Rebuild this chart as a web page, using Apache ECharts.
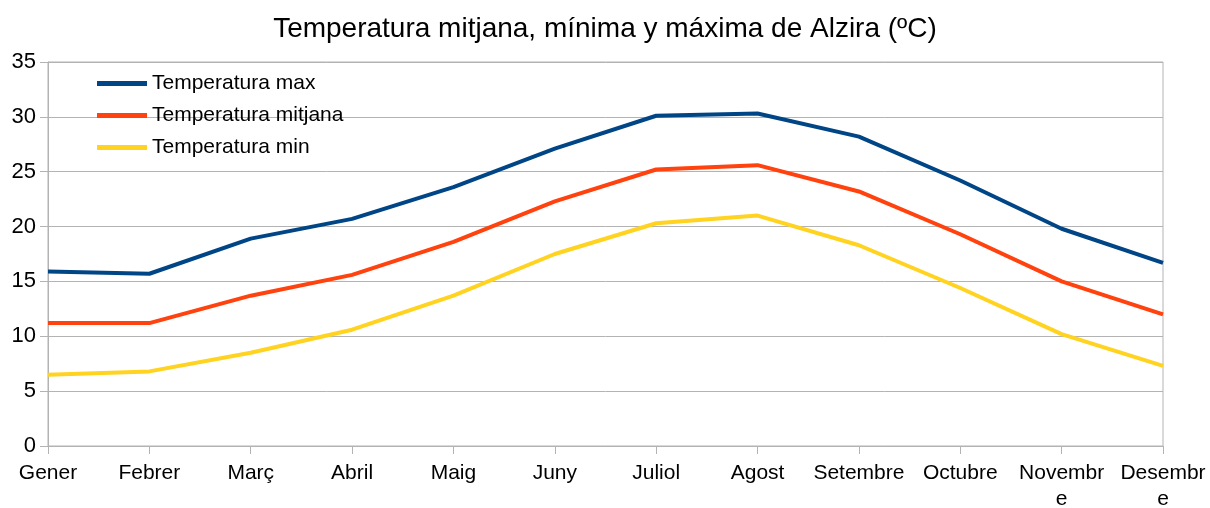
<!DOCTYPE html>
<html>
<head>
<meta charset="utf-8">
<script src="https://cdn.jsdelivr.net/npm/echarts@6/dist/echarts.min.js"></script>
<style>
  html, body { margin: 0; padding: 0; background: #fff; }
  #chart { width: 1210px; height: 508px; }
</style>
</head>
<body>
<div id="chart"></div>
<script>
// dades
var mesos = ['Gener', 'Febrer', 'Març', 'Abril', 'Maig', 'Juny', 'Juliol', 'Agost', 'Setembre', 'Octubre', 'Novembre', 'Desembre']
var etiquetes = ['Gener', 'Febrer', 'Març', 'Abril', 'Maig', 'Juny', 'Juliol', 'Agost', 'Setembre', 'Octubre', 'Novembr\ne', 'Desembr\ne']
var tempMax = [15.9, 15.7, 18.9, 20.7, 23.6, 27.1, 30.1, 30.3, 28.2, 24.2, 19.8, 16.7]
var tempMitjana = [11.2, 11.2, 13.7, 15.6, 18.6, 22.3, 25.2, 25.6, 23.2, 19.3, 15.0, 12.0]
var tempMin = [6.5, 6.8, 8.5, 10.6, 13.7, 17.5, 20.3, 21.0, 18.3, 14.4, 10.2, 7.3]

var font = 'Liberation Sans, Arial, sans-serif'
var myChart = echarts.init(document.getElementById('chart'))

function serie(nom, dades, color) {
    return {
        name: nom,
        type: 'line',
        data: dades,
        symbol: 'none',
        lineStyle: { width: 4, color: color },
        itemStyle: { color: color }
    }
}

myChart.setOption({
    animation: false,
    textStyle: { fontFamily: font },
    title: {
        text: 'Temperatura mitjana, mínima y máxima de Alzira (ºC)',
        left: 'center',
        top: 10,
        textStyle: { fontFamily: font, fontSize: 28, fontWeight: 'normal', color: '#000' }
    },
    legend: {
        orient: 'vertical',
        left: 92,
        top: 68,
        icon: 'rect',
        itemWidth: 50,
        itemHeight: 5,
        itemGap: 11,
        textStyle: { fontFamily: font, fontSize: 21, color: '#000' },
        data: ['Temperatura max', 'Temperatura mitjana', 'Temperatura min']
    },
    grid: {
        left: 48, right: 47, top: 62, bottom: 62,
        outerBoundsMode: 'none', containLabel: false,
        show: true, borderColor: '#b3b3b3', borderWidth: 1
    },
    xAxis: {
        type: 'category',
        boundaryGap: false,
        data: mesos,
        axisLine: { lineStyle: { color: '#b3b3b3' } },
        axisTick: { show: true, length: 8, lineStyle: { color: '#b3b3b3' } },
        axisLabel: {
            color: '#000', fontSize: 21, fontFamily: font, margin: 14, interval: 0, lineHeight: 26,
            formatter: function (v, i) { return etiquetes[i] }
        },
        splitLine: { show: false }
    },
    yAxis: {
        type: 'value',
        min: 0,
        max: 35,
        interval: 5,
        axisLine: { show: true, lineStyle: { color: '#b3b3b3' } },
        axisTick: { show: true, length: 8, lineStyle: { color: '#b3b3b3' } },
        axisLabel: { color: '#000', fontSize: 22, fontFamily: font, margin: 12 },
        splitLine: { lineStyle: { color: '#b3b3b3' } }
    },
    series: [
        serie('Temperatura max', tempMax, '#004586'),
        serie('Temperatura mitjana', tempMitjana, '#ff420e'),
        serie('Temperatura min', tempMin, '#ffd320')
    ]
})
</script>
</body>
</html>
